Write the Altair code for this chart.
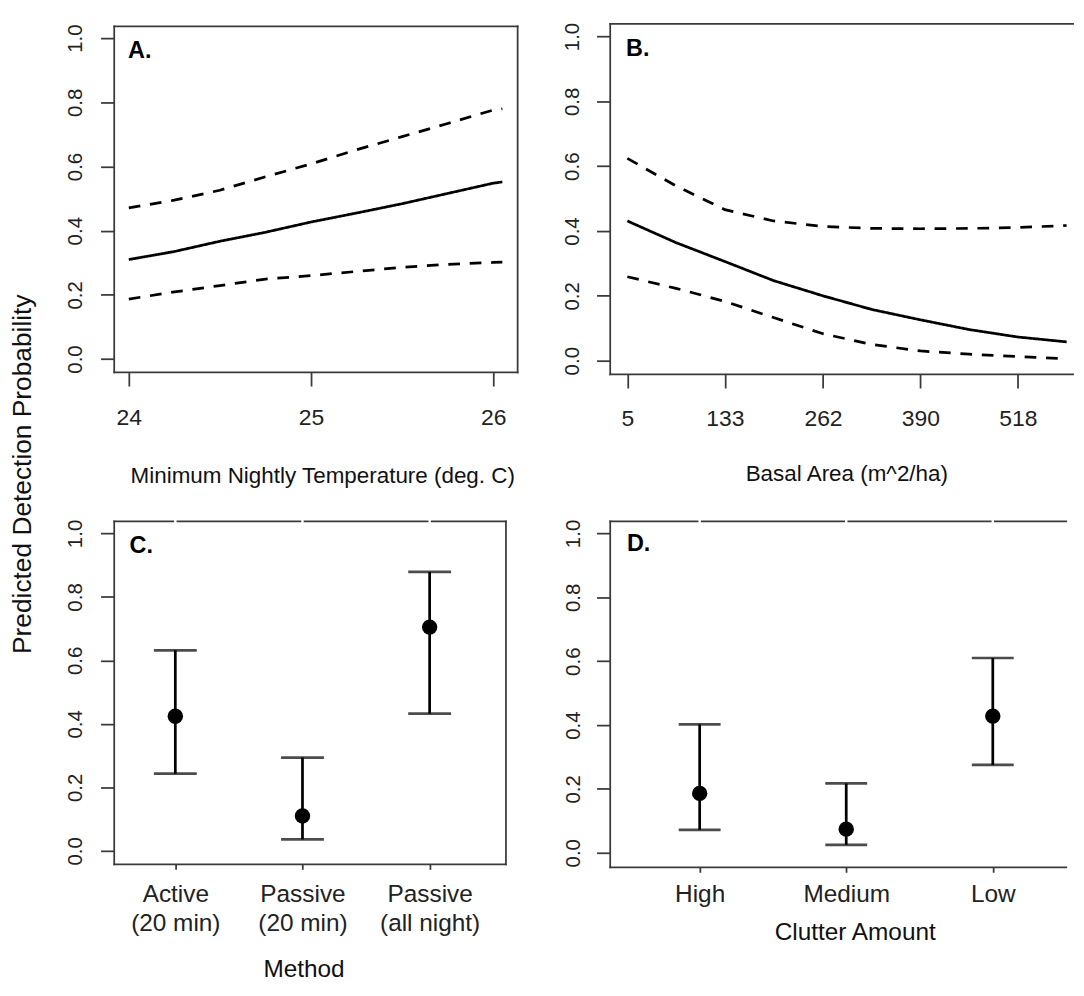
import altair as alt
import pandas as pd

# ---------------- data ----------------
# Panel A: minimum nightly temperature
temp_x = [24.0, 24.25, 24.5, 24.75, 25.0, 25.25, 25.5, 25.75, 26.0, 26.05]
temp_fit = [0.310, 0.335, 0.367, 0.395, 0.427, 0.455, 0.484, 0.516, 0.548, 0.552]
temp_upper = [0.471, 0.495, 0.526, 0.568, 0.608, 0.652, 0.693, 0.734, 0.776, 0.780]
temp_lower = [0.187, 0.209, 0.229, 0.249, 0.260, 0.273, 0.286, 0.295, 0.301, 0.302]
temp_ticks = [24, 25, 26]

# Panel B: basal area
basal_x = [5, 69, 133, 197, 262, 326, 390, 454, 518, 582]
basal_fit = [0.431, 0.364, 0.306, 0.247, 0.200, 0.158, 0.126, 0.096, 0.073, 0.058]
basal_upper = [0.624, 0.539, 0.466, 0.431, 0.414, 0.408, 0.407, 0.408, 0.411, 0.417]
basal_lower = [0.259, 0.223, 0.183, 0.133, 0.083, 0.050, 0.030, 0.020, 0.013, 0.006]
basal_ticks = [5, 133, 262, 390, 518]

# Panel C: method
methods = ["Active (20 min)", "Passive (20 min)", "Passive (all night)"]
method_est = [0.424, 0.110, 0.705]
method_lo = [0.243, 0.036, 0.432]
method_hi = [0.632, 0.294, 0.879]

# Panel D: clutter
clutter = ["High", "Medium", "Low"]
clutter_est = [0.186, 0.074, 0.428]
clutter_lo = [0.072, 0.025, 0.275]
clutter_hi = [0.402, 0.217, 0.610]

prob_ticks = [0.0, 0.2, 0.4, 0.6, 0.8, 1.0]

# ---------------- styling helpers ----------------
FONT = "Liberation Sans"
FRAME = "#3a3a3a"
FW = 1.8
LW = 2.8
one = pd.DataFrame({"k": [0]})


def hrule(x1, x2, y, color=FRAME, w=FW):
    return alt.Chart(one).mark_rule(color=color, strokeWidth=w, strokeCap="square").encode(
        x=alt.value(x1), x2=alt.value(x2), y=alt.value(y))


def vrule(x, y1, y2, color=FRAME, w=FW):
    return alt.Chart(one).mark_rule(color=color, strokeWidth=w, strokeCap="square").encode(
        x=alt.value(x), y=alt.value(y1), y2=alt.value(y2))


def label(text, x, y, size, weight="normal", align="left", angle=0, color="#111"):
    return alt.Chart(one).mark_text(
        text=text, font=FONT, fontSize=size, fontWeight=weight, align=align,
        baseline="alphabetic", angle=angle, color=color).encode(x=alt.value(x), y=alt.value(y))


def prob_axis(pad):
    return alt.Axis(values=prob_ticks, format=".1f", labelAngle=270, labelAlign="center",
                    labelBaseline="alphabetic", labelPadding=pad, labelFontSize=21,
                    labelColor="#222", labelFont=FONT, labelFlush=False, labelOverlap=False,
                    tickSize=14, tickColor=FRAME, tickWidth=FW, domain=False, grid=False,
                    title=None)


def x_axis(values, size, pad, ticksize, fmt=None, expr=None):
    kw = dict(labelAngle=0, labelAlign="center", labelBaseline="top", labelPadding=pad,
              labelFontSize=size, labelColor="#222",
              labelFont=FONT, labelFlush=False, labelOverlap=False, tickSize=ticksize,
              tickColor=FRAME, tickWidth=FW, domain=False, grid=False, title=None,
              labelLineHeight=30)
    if values is not None:
        kw["values"] = values
    if fmt:
        kw["format"] = fmt
    if expr:
        kw["labelExpr"] = expr
    return alt.Axis(**kw)


dash_scale = alt.Scale(domain=["fit", "upper", "lower"], range=[[1, 0], [12, 10], [12, 10]])


def curve_panel(xs, fit, up, lo, xdom, ydom, xaxis, yaxis):
    n = len(xs)
    df = pd.DataFrame({"x": list(xs) * 3, "p": list(fit) + list(up) + list(lo),
                       "band": ["fit"] * n + ["upper"] * n + ["lower"] * n})
    return alt.Chart(df).mark_line(color="black", strokeWidth=LW).encode(
        x=alt.X("x:Q", scale=alt.Scale(domain=xdom, nice=False, zero=False), axis=xaxis),
        y=alt.Y("p:Q", scale=alt.Scale(domain=ydom, nice=False, zero=False), axis=yaxis),
        detail="band:N",
        strokeDash=alt.StrokeDash("band:N", scale=dash_scale, legend=None),
        order=alt.Order("x:Q"),
    )


# ---------------- Panel A ----------------
WA, HA = 414, 355
lineA = curve_panel(temp_x, temp_fit, temp_upper, temp_lower, [23.92, 26.134], [-0.0416, 1.0364],
                    x_axis(temp_ticks, 23.5, 21, 14, fmt="d"), prob_axis(20))
panelA = alt.layer(
    hrule(0, WA, 0), hrule(0, WA, HA), vrule(0, 0, HA), vrule(WA, 0, HA),
    lineA,
    label("A.", 14.2, 32, 24, weight="bold", color="black"),
    label("Minimum Nightly Temperature (deg. C)", 214, 468.7, 23, align="center"),
).properties(width=WA, height=HA)

# ---------------- Panel B ----------------
WB, HB = 478, 357
lineB = curve_panel(basal_x, basal_fit, basal_upper, basal_lower, [-17.53, 594.3], [-0.0421, 1.031],
                    x_axis(basal_ticks, 23.5, 20, 14, fmt="d"), prob_axis(19))
panelB = alt.layer(
    hrule(0, WB - 3, -2.7), hrule(0, WB - 3, HB), vrule(0, -2.7, HB),
    lineB,
    label("B.", 16.2, 30.3, 24, weight="bold", color="black"),
    label("Basal Area (m^2/ha)", 242.8, 466, 23, align="center"),
).properties(width=WB, height=HB)


# ---------------- categorical panels ----------------
def cat_panel(cats, est, lo, hi, ydom, pad, align, cap, lab_pad, ypad, expr=None):
    df = pd.DataFrame({"cat": cats, "est": est, "lo": lo, "hi": hi})
    xenc = alt.X("cat:N", sort=cats,
                 scale=alt.Scale(type="point", domain=cats, padding=pad, align=align),
                 axis=x_axis(None, 25, lab_pad, 5, expr=expr))
    yscale = alt.Scale(domain=ydom, nice=False, zero=False)
    base = alt.Chart(df)
    gaps = base.mark_rule(color="white", strokeWidth=2.5).encode(
        x=xenc, y=alt.value(-3), y2=alt.value(3))
    bars = base.mark_rule(color="black", strokeWidth=LW).encode(
        x=xenc, y=alt.Y("lo:Q", scale=yscale, axis=prob_axis(ypad)), y2="hi:Q")
    cap_lo = base.mark_tick(color="black", size=cap, thickness=LW, orient="horizontal").encode(
        x=xenc, y=alt.Y("lo:Q", scale=yscale, axis=prob_axis(ypad)))
    cap_hi = base.mark_tick(color="black", size=cap, thickness=LW, orient="horizontal").encode(
        x=xenc, y=alt.Y("hi:Q", scale=yscale, axis=prob_axis(ypad)))
    pts = base.mark_point(filled=True, size=250, color="black", opacity=1, shape="circle").encode(
        x=xenc, y=alt.Y("est:Q", scale=yscale, axis=prob_axis(ypad)))
    return gaps, bars, cap_lo, cap_hi, pts


# Panel C
WC, HC = 402, 352
c_layers = cat_panel(methods, method_est, method_lo, method_hi, [-0.043, 1.0378],
                     0.5402, 0.4447, 44, 12.7, 20,
                     expr="split(replace(datum.label, ' (', '|('), '|')")
panelC = alt.layer(
    hrule(0, WC, 0), hrule(0, WC, HC), vrule(0, 0, HC), vrule(WC, 0, HC),
    *c_layers,
    label("C.", 15.7, 32.3, 24, weight="bold", color="black"),
    label("Method", 194.8, 467.3, 25, align="center"),
).properties(width=WC, height=HC)

# Panel D
WD, HD = 471, 355
d_layers = cat_panel(clutter, clutter_est, clutter_lo, clutter_hi, [-0.0458, 1.0375],
                     0.5658, 0.5394, 43, 10, 18)
panelD = alt.layer(
    hrule(0, WD - 3, 0), hrule(0, WD - 3, HD), vrule(0, 0, HD),
    *d_layers,
    label("D.", 17.2, 30.7, 24, weight="bold", color="black"),
    label("Clutter Amount", 251.4, 429.7, 25, align="center"),
).properties(width=WD, height=HD)


# ---------------- spacers / shared y title ----------------
def spacer(w, h):
    return alt.Chart(one).mark_text(text=" ", fontSize=1).encode(
        x=alt.value(0), y=alt.value(0)).properties(width=w, height=h)


sp1 = alt.layer(
    hrule(0.5, 1.5, -4.5, color="white", w=1),
    label("Predicted Detection Probability", 22.5, 459.5, 27, align="center", angle=270),
).properties(width=100, height=508)
sp2 = spacer(84, 10)
sp3 = spacer(108, 10)
sp4 = spacer(95, 10)

chart = alt.concat(
    sp1, panelA, sp2, panelB, sp3, panelC, sp4, panelD,
    columns=4, spacing=0, bounds="flush", align={"row": "each", "column": "none"},
).properties(padding=0).configure(font=FONT).configure_view(stroke=None)

chart.save("out.html", embed_options={"renderer": "svg", "actions": False})
